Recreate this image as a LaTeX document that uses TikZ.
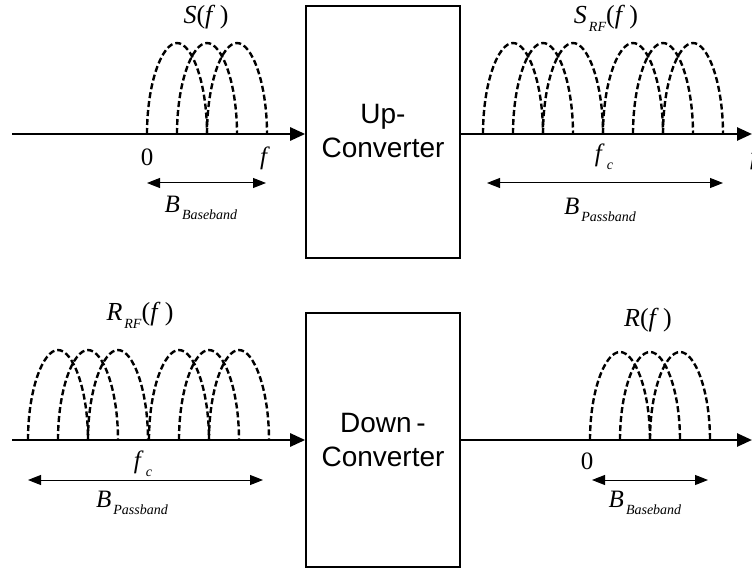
\documentclass[tikz,border=0pt]{standalone}
\usepackage{fontspec}
\setmainfont{Liberation Serif}
\newfontfamily\arialf{Liberation Sans}
\usetikzlibrary{arrows.meta}
\newcommand\lsub[1]{\hspace{2pt}\raisebox{-0.3em}{\fontsize{14}{14}\selectfont\textit{#1}}}
\newcommand\bigfont{\fontsize{26}{30}\selectfont}
\newcommand\midfont{\fontsize{25}{28}\selectfont}
\begin{document}
\begin{tikzpicture}[x=1pt,y=-1pt,
  conv/.style={draw, line width=1.6pt, minimum width=154pt},
  convtext/.style={align=center, inner sep=0pt, font=\arialf\fontsize{28}{33.5}\selectfont},
  axis/.style={line width=2.6pt, -{Triangle[length=15pt,width=13pt]}},
  band/.style={line width=1pt, {Triangle[length=13pt,width=10pt]}-{Triangle[length=13pt,width=10pt]}},
  hump/.style={line width=2.4pt, dash pattern=on 6pt off 3pt},
  lab/.style={inner sep=0pt, font=\bigfont},
  small/.style={inner sep=0pt, font=\midfont}]
\useasboundingbox (0,0) rectangle (752,569);

% boxes
\node[conv, minimum height=252pt] (up) at (383,132) {};
\node[conv, minimum height=254pt] (down) at (383,440) {};
\node[convtext] (uptext) at (383,131) {Up-\\Converter};
\node[convtext] (downtext) at (383,440) {Down\,-\\Converter};

% axes
\coordinate (tl) at (12,134);
\coordinate (tr) at (752,134);
\coordinate (bl) at (12,440);
\coordinate (br) at (752,440);
\draw[axis] (tl) -- (tl -| up.west);
\draw[axis] (tr -| up.east) -- (tr);
\draw[axis] (bl) -- (bl -| down.west);
\draw[axis] (br -| down.east) -- (br);

% humps: center, axis y, height
\newcommand\hump[3]{%
  \draw[hump] (#1-30,#2) .. controls (#1-30,#2-#3*0.56) and (#1-30*0.5,#2-#3) ..
    (#1,#2-#3) .. controls (#1+30*0.5,#2-#3) and (#1+30,#2-#3*0.56) .. (#1+30,#2);}
\foreach \c in {177,207,237} {\hump{\c}{134}{91}}
\foreach \c in {513,543,573,633,663,693} {\hump{\c}{134}{91}}
\foreach \c in {58,88,118,179,209,239} {\hump{\c}{440}{90}}
\foreach \c in {620,650,680} {\hump{\c}{440}{88}}

% bandwidth arrows
\coordinate (a1) at (147,183); \coordinate (a2) at (266,183);
\coordinate (b1) at (487,183); \coordinate (b2) at (723,183);
\coordinate (c1) at (28,480);  \coordinate (c2) at (263,480);
\coordinate (d1) at (592,480); \coordinate (d2) at (708,480);
\draw[band] (a1) -- (a2);
\draw[band] (b1) -- (b2);
\draw[band] (c1) -- (c2);
\draw[band] (d1) -- (d2);

% labels
\node[lab] (sf) at (206,17) {\textit{S}(\textit{f}\,)};
\node[lab] (srf) at (606,18) {\textit{S}\lsub{RF}(\textit{f}\,)};
\node[lab] (rrf) at (140,315) {\textit{R}\lsub{RF}(\textit{f}\,)};
\node[lab] (rf) at (648,320) {\textit{R}(\textit{f}\,)};

\node[small] (z1) at (147,157) {0};
\node[small] (f1) at (265,158) {\textit{f}};
\node[small] (fc1) at (604,157) {\textit{f}\lsub{c}};
\node[small] (f2) at (755,158) {\textit{f}};
\node[small] (fc2) at (143,464) {\textit{f}\lsub{c}};
\node[small] (z2) at (587,461) {0};

\node[small] (bb1) at (201,208) {\textit{B}\lsub{Baseband}};
\node[small] (bp1) at (600,210) {\textit{B}\lsub{Passband}};
\node[small] (bp2) at (132,503) {\textit{B}\lsub{Passband}};
\node[small] (bb2) at (645,503) {\textit{B}\lsub{Baseband}};
\end{tikzpicture}
\end{document}
